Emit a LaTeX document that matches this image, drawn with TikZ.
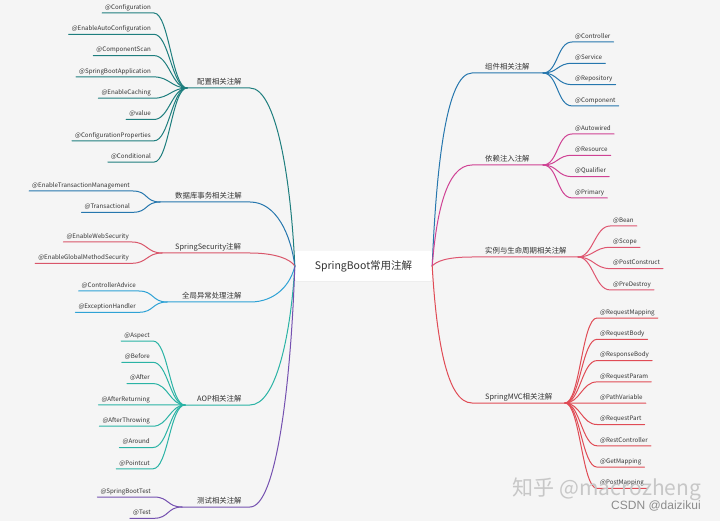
\documentclass[tikz,border=0pt]{standalone}
\usepackage{fontspec}
\setmainfont{Noto Sans CJK SC}
\newfontfamily\wmfont{Liberation Sans}
\usetikzlibrary{calc,shadows}
\definecolor{bg}{HTML}{F5F5F5}
\definecolor{ink}{HTML}{333333}
\definecolor{cfgcol}{HTML}{1E7E7E}
\definecolor{dbcol}{HTML}{2677AE}
\definecolor{seccol}{HTML}{D9566A}
\definecolor{exccol}{HTML}{2EA2D5}
\definecolor{aopcol}{HTML}{2AB3A5}
\definecolor{testcol}{HTML}{7551B0}
\definecolor{compcol}{HTML}{2677AE}
\definecolor{dicol}{HTML}{CF4294}
\definecolor{lifecol}{HTML}{DF5670}
\definecolor{mvccol}{HTML}{E04B55}

\begin{document}
\begin{tikzpicture}[
  x=1pt, y=-1pt,
  % Node styles
  root/.style={
    rectangle,
    fill=white,
    rounded corners=2pt,
    minimum width=137pt,
    minimum height=30pt,
    text=ink,
    font=\fontsize{10.5}{12}\selectfont,
    drop shadow={opacity=0.06, shadow xshift=0pt, shadow yshift=-1pt},
  },
  cat/.style={
    anchor=base west,
    inner sep=0pt,
    text=ink,
    font=\fontsize{7.4}{8}\selectfont,
  },
  leaf/.style={
    inner xsep=3pt,
    inner ysep=2pt,
    text height=5pt,
    text depth=1.5pt,
    text=ink,
    font=\fontsize{6.2}{7}\selectfont,
  },
  % Edge style
  link/.style={
    line width=1pt,
    line cap=round,
  },
]

  % Canvas
  \useasboundingbox (0,0) rectangle (720,521);
  \fill[bg] (0,0) rectangle (720,521);

  % Centre topic
  \node[root] (root) at (363.5,266) {SpringBoot常用注解};

  % Left topics: name/colour/hub x/y/label x/text
  \foreach \cat/\col/\hx/\ey/\lx/\txt in {
    cfg/cfgcol/187/88/197/配置相关注解,
    db/dbcol/160/202/175/数据库事务相关注解,
    sec/seccol/162/253/175/SpringSecurity注解,
    exc/exccol/167/302/182/全局异常处理注解,
    aop/aopcol/185/405/197/AOP相关注解,
    test/testcol/182/507/197/测试相关注解} {
    \coordinate (\cat-hub) at (\hx,\ey);
    \coordinate (\cat-end) at (250,\ey);
    \node[cat] (\cat) at (\lx,\ey-3.5) {\txt};
    \draw[link, draw=\col] (root.west)
      .. controls ($(root.west)+(-4,{0.5*(\ey-266)})$) and ($(\cat-end)+(26,0)$) .. (\cat-end)
      -- (\cat-hub);
  }

  % Right topics
  \foreach \cat/\col/\hx/\ey/\lx/\txt in {
    comp/compcol/543/73/485/组件相关注解,
    di/dicol/543/165/485/依赖注入注解,
    life/lifecol/578/257/485/实例与生命周期相关注解,
    mvc/mvccol/565/403/485/SpringMVC相关注解} {
    \coordinate (\cat-hub) at (\hx,\ey);
    \coordinate (\cat-end) at (472,\ey);
    \node[cat] (\cat) at (\lx,\ey-3.5) {\txt};
    \draw[link, draw=\col] (root.east)
      .. controls ($(root.east)+(4,{0.5*(\ey-266)})$) and ($(\cat-end)+(-26,0)$) .. (\cat-end)
      -- (\cat-hub);
  }

  % Left leaves: topic/colour/right x/first underline y/items
  \foreach \cat/\col/\rx/\ya/\items in {
    cfg/cfgcol/154/13/{@Configuration,@EnableAutoConfiguration,@ComponentScan,@SpringBootApplication,@EnableCaching,@value,@ConfigurationProperties,@Conditional},
    db/dbcol/133/191/{@EnableTransactionManagement,@Transactional},
    sec/seccol/132/242/{@EnableWebSecurity,@EnableGlobalMethodSecurity},
    exc/exccol/139/291/{@ControllerAdvice,@ExceptionHandler},
    aop/aopcol/153/341/{@Aspect,@Before,@After,@AfterReturning,@AfterThrowing,@Around,@Pointcut},
    test/testcol/154/497/{@SpringBootTest,@Test}} {
    \foreach \txt [count=\i] in \items {
      \pgfmathsetmacro{\uy}{\ya+(\i-1)*21.3}
      \node[leaf, anchor=south east] (\cat-\i) at (\rx,\uy) {\txt};
      \draw[link, draw=\col] (\cat-hub) .. controls +(-15,0) and +(15,0) .. (\cat-\i.south east)
        -- (\cat-\i.south west);
    }
  }

  % Right leaves: topic/colour/left x/first underline y/items
  \foreach \cat/\col/\rx/\ya/\items in {
    comp/compcol/572/42/{@Controller,@Service,@Repository,@Component},
    di/dicol/572/134/{@Autowired,@Resource,@Qualifier,@Primary},
    life/lifecol/610/226/{@Bean,@Scope,@PostConstruct,@PreDestroy},
    mvc/mvccol/597/318/{@RequestMapping,@RequestBody,@ResponseBody,@RequestParam,@PathVariable,@RequestPart,@RestController,@GetMapping,@PostMapping}} {
    \foreach \txt [count=\i] in \items {
      \pgfmathsetmacro{\uy}{\ya+(\i-1)*21.3}
      \node[leaf, anchor=south west] (\cat-\i) at (\rx,\uy) {\txt};
      \draw[link, draw=\col] (\cat-hub) .. controls +(15,0) and +(-15,0) .. (\cat-\i.south west)
        -- (\cat-\i.south east);
    }
  }

  % Watermarks
  \node[text=black!22, font=\fontsize{21}{24}\selectfont, inner sep=0pt] (zhihu) at (607,489) {知乎 @macrozheng};
  \node[text=black!45, font=\wmfont\fontsize{12}{14}\selectfont, inner sep=0pt] (csdn) at (656,506) {CSDN @daizikui};

\end{tikzpicture}
\end{document}
